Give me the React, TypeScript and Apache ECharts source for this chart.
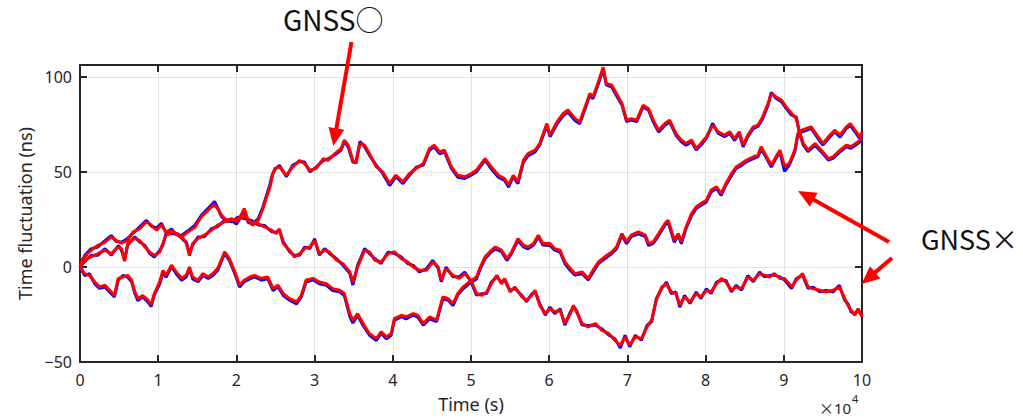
import React, { useEffect, useRef } from 'react';
import * as echarts from 'echarts';

// Time in units of 1e4 s, fluctuation in ns
const traceARed: number[][] = [[0,0],[0.03,4],[0.06,5.3],[0.14,8.8],[0.23,11.4],[0.32,13],[0.40,15.8],[0.46,14],[0.53,12.5],[0.61,14],[0.68,18.4],[0.76,20],[0.85,23.7],[0.91,22],[0.98,19.3],[1.04,22],[1.10,18.4],[1.17,19.3],[1.23,17.5],[1.30,15.8],[1.38,18.4],[1.47,21],[1.55,26.3],[1.62,29],[1.68,31.6],[1.72,32.5],[1.76,30.7],[1.81,27.2],[1.87,24.6],[1.94,25.4],[2.00,23.7],[2.06,27.2],[2.10,30.7],[2.15,24.6],[2.21,22],[2.28,24.6],[2.34,30.7],[2.38,36],[2.43,42],[2.46,48],[2.49,51.8],[2.55,52.6],[2.64,48.2],[2.72,52.6],[2.81,56],[2.87,54.4],[2.94,50.9],[3.02,51.8],[3.11,57],[3.17,56],[3.26,59.6],[3.34,62.3],[3.38,66.7],[3.43,64],[3.49,56],[3.53,54.4],[3.58,65],[3.64,64],[3.70,59.6],[3.79,52.6],[3.87,50],[3.96,43.9],[4.04,48.2],[4.13,44.7],[4.21,49],[4.30,51.8],[4.39,54.4],[4.47,62.3],[4.53,64],[4.60,60.5],[4.66,61.4],[4.75,52.6],[4.83,48.2],[4.92,47.4],[5.00,49],[5.07,50.9],[5.18,57],[5.26,52.6],[5.35,48.2],[5.43,46.5],[5.48,43],[5.54,48.2],[5.60,44.7],[5.67,56],[5.73,59.6],[5.82,61.4],[5.88,65],[5.97,75.4],[6.01,69.3],[6.10,76.3],[6.18,80.7],[6.24,82.5],[6.33,78],[6.39,76.3],[6.46,84.2],[6.52,91.2],[6.56,89.5],[6.63,97.4],[6.69,105],[6.73,96.5],[6.80,95.6],[6.86,91.2],[6.93,86],[6.99,77.2],[7.05,78],[7.12,77.2],[7.20,85],[7.27,83.3],[7.33,77.2],[7.40,71.9],[7.48,75.4],[7.54,77.2],[7.62,70.2],[7.69,66.7],[7.75,64.9],[7.82,66.7],[7.88,62.3],[7.94,64.9],[8.01,68.4],[8.09,74.6],[8.16,71.1],[8.24,69.3],[8.31,71.1],[8.37,67.5],[8.43,71.1],[8.48,64],[8.54,69.3],[8.61,73.7],[8.67,74.6],[8.73,78.9],[8.80,86],[8.84,91.2],[8.90,89.5],[8.97,87.7],[9.03,84.2],[9.10,80.7],[9.16,78],[9.20,71.1],[9.25,64.9],[9.31,61.4],[9.40,64.9],[9.48,61.4],[9.57,57],[9.63,57.9],[9.72,61.4],[9.80,64],[9.86,63.2],[9.95,65.8],[10.0,67.5]];

const traceABlue: number[][] = [[0,0],[0.03,3],[0.06,6],[0.14,9.5],[0.23,10.5],[0.32,13.8],[0.40,16.5],[0.46,13.5],[0.53,13],[0.61,15],[0.68,17.8],[0.76,21],[0.85,24.5],[0.91,21.5],[0.98,20.5],[1.04,23],[1.10,18],[1.17,20],[1.23,17],[1.30,16.5],[1.38,19],[1.47,22],[1.55,27],[1.62,30],[1.68,32.5],[1.72,34.5],[1.76,31],[1.81,26.5],[1.87,24],[1.94,24.5],[2.00,22.5],[2.06,26.5],[2.10,29.5],[2.15,23.5],[2.21,22.5],[2.28,25.5],[2.34,31.5],[2.38,37],[2.43,43.5],[2.46,48.5],[2.49,51],[2.55,53.5],[2.64,47.5],[2.72,53.5],[2.81,55.5],[2.87,55.2],[2.94,50],[3.02,52.5],[3.11,56],[3.17,56.8],[3.26,59],[3.34,61.5],[3.38,66],[3.43,63],[3.49,55],[3.53,55.2],[3.58,66],[3.64,63.2],[3.70,58.8],[3.79,53.4],[3.87,49.2],[3.96,42.8],[4.04,47.5],[4.13,43.8],[4.21,48],[4.30,52.5],[4.39,53.6],[4.47,61.5],[4.53,63.2],[4.60,59.5],[4.66,60.5],[4.75,51.8],[4.83,47.2],[4.92,46.5],[5.00,48.2],[5.07,50],[5.18,56.2],[5.26,51.5],[5.35,47.2],[5.43,45.5],[5.48,42],[5.54,47.5],[5.60,43.8],[5.67,55],[5.73,58.5],[5.82,60.5],[5.88,64.2],[5.97,74.5],[6.01,68.5],[6.10,75.2],[6.18,79.6],[6.24,81.5],[6.33,77],[6.39,75.3],[6.46,83.2],[6.52,90.4],[6.56,88.5],[6.63,96.5],[6.69,104],[6.73,95.8],[6.80,94.6],[6.86,90.2],[6.93,85.2],[6.99,76.5],[7.05,77.2],[7.12,76.4],[7.20,84.2],[7.27,82.4],[7.33,76.3],[7.40,71],[7.48,74.5],[7.54,76.3],[7.62,69.4],[7.69,65.8],[7.75,64],[7.82,65.8],[7.88,61.5],[7.94,64],[8.01,67.6],[8.09,75.5],[8.16,70.3],[8.24,68.5],[8.31,70.2],[8.37,66.6],[8.43,70.3],[8.48,63.2],[8.54,68.5],[8.61,72.8],[8.67,73.9],[8.73,78],[8.80,85.2],[8.84,91.8],[8.90,88.7],[8.97,86.9],[9.03,83.4],[9.10,79.8],[9.16,78.8],[9.20,70.3],[9.25,64],[9.31,60.6],[9.40,64],[9.48,60.5],[9.57,56.2],[9.63,57.1],[9.72,60.6],[9.80,63.2],[9.86,62.4],[9.95,65],[10.0,66.8]];

const traceBRed: number[][] = [[0,0],[0.06,3.5],[0.14,5.3],[0.23,7],[0.32,8.8],[0.40,7],[0.49,10.5],[0.53,9.6],[0.57,3],[0.61,12.3],[0.70,15],[0.76,14],[0.83,10.5],[0.89,7.9],[0.95,6],[1.02,7.9],[1.06,12.3],[1.10,16.7],[1.19,18.4],[1.25,16.7],[1.32,15],[1.36,12.3],[1.40,6],[1.44,12.3],[1.51,15],[1.59,16.7],[1.68,19.3],[1.76,22],[1.85,23.7],[1.94,24.6],[2.02,25.4],[2.10,26.3],[2.19,23.7],[2.28,22.8],[2.36,21],[2.45,19.3],[2.51,17.5],[2.55,20],[2.60,12.3],[2.68,8.8],[2.74,5.3],[2.81,7],[2.87,9.6],[2.94,10.5],[3.00,14],[3.06,7],[3.13,8.8],[3.19,7.9],[3.28,3.5],[3.36,1.8],[3.45,-2.6],[3.49,-7.9],[3.55,0],[3.64,8.8],[3.70,7.9],[3.77,3.5],[3.85,2.6],[3.94,7],[4.02,7.9],[4.11,4.4],[4.19,2.6],[4.26,0],[4.34,-1.8],[4.43,-1.8],[4.51,2.6],[4.58,0],[4.62,-7],[4.68,-0.9],[4.77,-4.4],[4.85,-6],[4.92,-3.5],[5.00,-7],[5.07,-14],[5.14,-14.9],[5.20,-13.2],[5.26,-8.8],[5.33,-4.4],[5.39,-8.8],[5.43,-6.1],[5.50,-13.2],[5.56,-10.5],[5.65,-15.8],[5.71,-17.5],[5.78,-14.9],[5.82,-12.3],[5.88,-20.2],[5.95,-24.6],[6.01,-21.9],[6.07,-23.7],[6.14,-22.8],[6.20,-29.8],[6.27,-24.6],[6.31,-20.2],[6.35,-23.7],[6.42,-29.8],[6.50,-31.6],[6.59,-29.8],[6.67,-33.3],[6.76,-35],[6.84,-38.6],[6.91,-41.2],[6.97,-36.8],[7.03,-41.2],[7.10,-36.8],[7.18,-37.7],[7.25,-31.6],[7.31,-28],[7.37,-17.5],[7.44,-10.5],[7.50,-8.8],[7.56,-13.2],[7.62,-14],[7.67,-20.2],[7.73,-15.8],[7.80,-18.4],[7.88,-14],[7.94,-15.8],[8.01,-12.3],[8.07,-13.2],[8.14,-8.8],[8.20,-6.1],[8.26,-7.9],[8.33,-12.3],[8.39,-10.5],[8.46,-11.4],[8.54,-5.3],[8.61,-7],[8.69,-3.5],[8.75,-4.4],[8.82,-5.3],[8.88,-3.5],[8.95,-6.1],[9.01,-6.1],[9.10,-10.5],[9.16,-7],[9.24,-3.5],[9.31,-10.5],[9.37,-11.4],[9.46,-12.3],[9.54,-13.2],[9.63,-12.3],[9.71,-10.5],[9.78,-16.7],[9.82,-20.2],[9.86,-22.8],[9.91,-25.4],[9.95,-21.9],[10.0,-26.3]];

const traceBBlue: number[][] = [[0,0],[0.06,2.8],[0.14,6],[0.23,6.2],[0.32,9.6],[0.40,6.2],[0.49,11.2],[0.53,8.8],[0.57,3.8],[0.61,11.5],[0.70,15.8],[0.76,13.2],[0.83,11.3],[0.89,7.1],[0.95,5.2],[1.02,8.7],[1.06,11.5],[1.10,17.5],[1.19,17.6],[1.25,17.5],[1.32,14.2],[1.36,13.1],[1.40,7],[1.44,11.5],[1.51,15.8],[1.59,15.9],[1.68,20.1],[1.76,21.2],[1.85,24.5],[1.94,23.8],[2.02,26.2],[2.10,25.5],[2.19,24.5],[2.28,22],[2.36,21.8],[2.45,18.5],[2.51,18.3],[2.55,19.2],[2.60,13.1],[2.68,8],[2.74,6.1],[2.81,6.2],[2.87,10.4],[2.94,9.7],[3.00,14.8],[3.06,6.2],[3.13,9.6],[3.19,7.1],[3.28,4.3],[3.36,1],[3.45,-3.4],[3.49,-9.5],[3.55,0.8],[3.64,9.6],[3.70,7.1],[3.77,4.3],[3.85,1.8],[3.94,7.8],[4.02,7.1],[4.11,5.2],[4.19,1.8],[4.26,0.8],[4.34,-2.6],[4.43,-1],[4.51,3.4],[4.58,-0.8],[4.62,-7.8],[4.68,-0.1],[4.77,-5.2],[4.85,-5.2],[4.92,-2.7],[5.00,-7.8],[5.07,-14.8],[5.14,-14.1],[5.20,-14],[5.26,-8],[5.33,-5.2],[5.39,-8],[5.43,-6.9],[5.50,-12.4],[5.56,-11.3],[5.65,-15],[5.71,-18.3],[5.78,-14.1],[5.82,-13.1],[5.88,-19.4],[5.95,-25.4],[6.01,-21.1],[6.07,-24.5],[6.14,-22],[6.20,-30.6],[6.27,-23.8],[6.31,-21],[6.35,-22.9],[6.42,-30.6],[6.50,-30.8],[6.59,-30.6],[6.67,-32.5],[6.76,-35.8],[6.84,-37.8],[6.91,-42.6],[6.97,-36],[7.03,-42],[7.10,-36],[7.18,-38.5],[7.25,-30.8],[7.31,-28.8],[7.37,-16.7],[7.44,-11.3],[7.50,-8],[7.56,-14],[7.62,-13.2],[7.67,-21.2],[7.73,-15],[7.80,-19.2],[7.88,-13.2],[7.94,-16.6],[8.01,-11.5],[8.07,-14],[8.14,-8],[8.20,-6.9],[8.26,-7.1],[8.33,-13.1],[8.39,-9.7],[8.46,-12.2],[8.54,-4.5],[8.61,-7.8],[8.69,-2.7],[8.75,-5.2],[8.82,-4.5],[8.88,-4.3],[8.95,-5.3],[9.01,-6.9],[9.10,-11.3],[9.16,-6.2],[9.24,-4.3],[9.31,-11.3],[9.37,-10.6],[9.46,-13.1],[9.54,-12.4],[9.63,-13.1],[9.71,-9.7],[9.78,-17.5],[9.82,-19.4],[9.86,-23.6],[9.91,-24.6],[9.95,-22.7],[10.0,-25.5]];

const traceCRed: number[][] = [[0,0],[0.06,-3.5],[0.12,-4.4],[0.19,-7.9],[0.25,-10.5],[0.32,-9.6],[0.38,-12.3],[0.44,-15],[0.49,-6],[0.55,-5.3],[0.61,-4.4],[0.66,-7],[0.70,-13],[0.74,-16.7],[0.80,-15],[0.87,-17.5],[0.91,-20],[0.95,-14],[1.02,-7.9],[1.06,-1.8],[1.10,-4.4],[1.17,0.9],[1.23,-2.6],[1.30,-6],[1.36,-4.4],[1.40,0],[1.44,-5.3],[1.51,-7],[1.57,-3.5],[1.64,-5.3],[1.70,-3.5],[1.76,-0.9],[1.85,7.9],[1.91,4.4],[1.98,-2.6],[2.04,-9.6],[2.10,-7],[2.17,-5.3],[2.23,-4.4],[2.32,-6],[2.40,-5.3],[2.47,-11.4],[2.53,-9.6],[2.60,-14],[2.68,-16.7],[2.77,-18.4],[2.83,-15],[2.89,-7],[2.98,-6],[3.06,-7.9],[3.15,-8.8],[3.23,-11.4],[3.32,-12.3],[3.38,-14],[3.45,-24.6],[3.49,-28],[3.55,-24.6],[3.62,-29.8],[3.70,-35],[3.79,-37.7],[3.85,-34.2],[3.92,-36.8],[3.98,-35],[4.02,-27.2],[4.11,-25.4],[4.17,-26.3],[4.26,-24.6],[4.32,-25.4],[4.39,-29.8],[4.47,-26.3],[4.56,-28],[4.64,-15.8],[4.71,-16.7],[4.77,-19.3],[4.83,-14],[4.90,-10.5],[4.98,-7.9],[5.07,-5.3],[5.12,0],[5.18,5.3],[5.24,7.9],[5.31,10.5],[5.39,8.8],[5.46,4.4],[5.52,7.9],[5.60,14.9],[5.67,11.4],[5.73,10.5],[5.80,12.3],[5.86,16.7],[5.92,12.3],[6.01,12.3],[6.07,9.6],[6.14,8.8],[6.20,2.6],[6.27,-0.9],[6.33,-3.5],[6.42,-2.6],[6.50,-6.1],[6.56,-1.8],[6.63,2.6],[6.71,5.3],[6.80,7.9],[6.86,10.5],[6.93,17.5],[6.99,13.2],[7.05,16.7],[7.14,18.4],[7.23,16.7],[7.27,12.3],[7.33,13.2],[7.40,17.5],[7.48,22.8],[7.52,24.6],[7.56,19.3],[7.60,14],[7.65,17.5],[7.69,13.2],[7.75,21],[7.82,28],[7.88,31.6],[7.94,33.3],[8.01,35],[8.07,40.4],[8.14,42.1],[8.20,38.6],[8.26,43.9],[8.33,49],[8.39,52.6],[8.46,54.4],[8.52,56.1],[8.61,57.9],[8.67,58.8],[8.71,63.2],[8.78,57.9],[8.84,53.5],[8.90,57.9],[8.95,61.4],[9.01,53],[9.07,54.4],[9.14,61.4],[9.18,70.2],[9.23,71.9],[9.29,72.8],[9.35,73.7],[9.44,68.4],[9.50,64.9],[9.57,68.4],[9.65,71.9],[9.72,69.3],[9.80,73.7],[9.85,75.4],[9.91,71.9],[9.97,68.4],[10.0,71]];

const traceCBlue: number[][] = [[0,0],[0.06,-4.5],[0.12,-3.6],[0.19,-8.9],[0.25,-11.3],[0.32,-10.6],[0.38,-13.3],[0.44,-15.8],[0.49,-6.8],[0.55,-4.5],[0.61,-5.4],[0.66,-7.8],[0.70,-13.8],[0.74,-17.7],[0.80,-15.8],[0.87,-18.5],[0.91,-20.8],[0.95,-14.8],[1.02,-8.9],[1.06,-2.8],[1.10,-5.4],[1.17,0.1],[1.23,-3.6],[1.30,-7],[1.36,-5.2],[1.40,-1],[1.44,-6.3],[1.51,-7.8],[1.57,-4.5],[1.64,-6.1],[1.70,-4.5],[1.76,-1.9],[1.85,7.1],[1.91,3.4],[1.98,-3.6],[2.04,-10.6],[2.10,-7.8],[2.17,-6.3],[2.23,-5.2],[2.32,-7],[2.40,-6.1],[2.47,-12.4],[2.53,-10.4],[2.60,-15],[2.68,-17.5],[2.77,-19.4],[2.83,-15.8],[2.89,-8],[2.98,-6.8],[3.06,-8.9],[3.15,-9.6],[3.23,-12.4],[3.32,-13.1],[3.38,-15],[3.45,-26],[3.49,-29.5],[3.55,-25.4],[3.62,-30.8],[3.70,-35.8],[3.79,-38.7],[3.85,-35],[3.92,-37.8],[3.98,-35.8],[4.02,-28.2],[4.11,-26.2],[4.17,-27.3],[4.26,-25.4],[4.32,-26.4],[4.39,-30.6],[4.47,-27.3],[4.56,-28.8],[4.64,-16.8],[4.71,-17.5],[4.77,-20.3],[4.83,-14.8],[4.90,-11.5],[4.98,-8.7],[5.07,-6.3],[5.12,-0.8],[5.18,4.3],[5.24,7.1],[5.31,9.5],[5.39,8],[5.46,3.4],[5.52,7.1],[5.60,13.9],[5.67,10.6],[5.73,9.5],[5.80,11.5],[5.86,15.7],[5.92,11.5],[6.01,11.3],[6.07,8.8],[6.14,7.8],[6.20,1.8],[6.27,-1.9],[6.33,-4.3],[6.42,-3.6],[6.50,-6.9],[6.56,-2.8],[6.63,1.8],[6.71,4.3],[6.80,7.1],[6.86,9.5],[6.93,16.7],[6.99,12.2],[7.05,15.9],[7.14,17.4],[7.23,15.9],[7.27,11.3],[7.33,12.4],[7.40,16.5],[7.48,22],[7.52,23.6],[7.56,18.3],[7.60,13],[7.65,16.7],[7.69,12.2],[7.75,20.2],[7.82,27],[7.88,30.8],[7.94,32.3],[8.01,34.2],[8.07,39.4],[8.14,41.3],[8.20,37.6],[8.26,43.1],[8.33,48],[8.39,51.8],[8.46,53.4],[8.52,55.3],[8.61,56.9],[8.67,58],[8.71,62.2],[8.78,57.1],[8.84,52.5],[8.90,57.1],[8.95,60.4],[9.01,50.2],[9.07,53.6],[9.14,60.4],[9.18,69.4],[9.23,71.1],[9.29,71.8],[9.35,72.9],[9.44,67.4],[9.50,64.1],[9.57,67.4],[9.65,71.1],[9.72,68.3],[9.80,72.9],[9.85,74.4],[9.91,71.1],[9.97,67.4],[10.0,70.2]];

const xTickMin = 0;
const xTickMax = 10;
const yTickMin = -50;
const yTickMax = 106.2;

const FONT = "'Noto Sans', 'Noto Sans CJK JP', sans-serif";
const CJK = "'Noto Sans CJK JP', sans-serif";
const AXIS_COLOR = '#262626';

function arrow(x1: number, y1: number, x2: number, y2: number, headLen = 18, headHalf = 8, width = 4) {
  const dx = x2 - x1, dy = y2 - y1;
  const L = Math.hypot(dx, dy);
  const ux = dx / L, uy = dy / L;
  const bx = x2 - ux * headLen, by = y2 - uy * headLen;
  const px = -uy, py = ux;
  return [
    { type: 'line', shape: { x1, y1, x2: bx + ux * 2, y2: by + uy * 2 }, style: { stroke: '#ff0000', lineWidth: width }, z: 100 },
    {
      type: 'polygon',
      shape: { points: [[x2, y2], [bx + px * headHalf, by + py * headHalf], [bx - px * headHalf, by - py * headHalf]] },
      style: { fill: '#ff0000' },
      z: 100,
    },
  ];
}

export default function App() {
  const ref = useRef<HTMLDivElement>(null);
  useEffect(() => {
    if (!ref.current) return;
    const chart = echarts.init(ref.current, null, { renderer: 'svg' });
    const axisLine = { show: true, onZero: false, lineStyle: { color: AXIS_COLOR, width: 2 } };
    const axisTick = { show: true, inside: true, length: 7, lineStyle: { color: AXIS_COLOR, width: 2 } };
    const mk = (data: number[][], color: string, z: number, width: number) => ({
      type: 'line',
      data,
      showSymbol: false,
      symbol: 'none',
      silent: true,
      lineStyle: { color, width },
      itemStyle: { color },
      z,
    });
    const option: any = {
      animation: false,
      backgroundColor: '#ffffff',
      grid: { left: 80, top: 65, width: 782, height: 297, containLabel: false },
      xAxis: [
        {
          type: 'value', min: xTickMin, max: xTickMax, interval: 1, position: 'bottom',
          axisLine, axisTick,
          axisLabel: { color: AXIS_COLOR, fontSize: 16, margin: 10, fontFamily: FONT },
          splitLine: { show: true, lineStyle: { color: '#e2e2e2', width: 1 } },
          name: 'Time (s)', nameLocation: 'middle', nameGap: 33,
          nameTextStyle: { color: AXIS_COLOR, fontSize: 18, fontFamily: FONT },
        },
        {
          type: 'value', min: xTickMin, max: xTickMax, interval: 1, position: 'top',
          axisLine, axisTick, axisLabel: { show: false }, splitLine: { show: false },
        },
      ],
      yAxis: [
        {
          type: 'value', min: yTickMin, max: yTickMax, interval: 50, position: 'left',
          axisLine, axisTick,
          axisLabel: {
            color: AXIS_COLOR, fontSize: 16, margin: 8, fontFamily: FONT,
            formatter: (v: number) => (Math.abs(v % 50) < 1e-9 ? (v < 0 ? '\u2212' + Math.abs(v) : String(v)) : ''),
          },
          splitLine: { show: true, lineStyle: { color: '#e2e2e2', width: 1 } },
          name: 'Time fluctuation (ns)', nameLocation: 'middle', nameGap: 44, nameRotate: 90,
          nameTextStyle: { color: AXIS_COLOR, fontSize: 18, fontFamily: FONT },
        },
        {
          type: 'value', min: yTickMin, max: yTickMax, interval: 50, position: 'right',
          axisLine, axisTick, axisLabel: { show: false }, splitLine: { show: false },
        },
      ],
      series: [
        mk(traceABlue, '#0000ff', 2, 3),
        mk(traceBBlue, '#0000ff', 2, 3),
        mk(traceCBlue, '#0000ff', 2, 3),
        mk(traceARed, '#ff0000', 3, 3),
        mk(traceBRed, '#ff0000', 3, 3),
        mk(traceCRed, '#ff0000', 3, 3),
      ],
      graphic: [
        { type: 'text', left: 819, top: 400, style: { text: '\u00d7', fontSize: 15, fill: AXIS_COLOR, fontFamily: CJK } },
        { type: 'text', left: 834, top: 400, style: { text: '10', fontSize: 15, fill: AXIS_COLOR, fontFamily: FONT } },
        { type: 'text', left: 852, top: 393, style: { text: '4', fontSize: 11, fill: AXIS_COLOR, fontFamily: FONT } },
        { type: 'text', left: 283, top: 5, style: { text: 'GNSS\u25cb', fontSize: 28, fill: '#111111', fontFamily: CJK } },
        { type: 'text', left: 921, top: 225, style: { text: 'GNSS\u00d7', fontSize: 27, fill: '#111111', fontFamily: CJK } },
        ...arrow(351.5, 42, 333.3, 146),
        ...arrow(889, 242, 798, 191),
        ...arrow(892, 258, 861.5, 284),
      ],
    };
    chart.setOption(option);
    return () => chart.dispose();
  }, []);
  return (
    <div
      ref={ref}
      style={{ position: 'absolute', left: 0, top: 0, width: 1023, height: 420, background: '#ffffff' }}
    />
  );
}
